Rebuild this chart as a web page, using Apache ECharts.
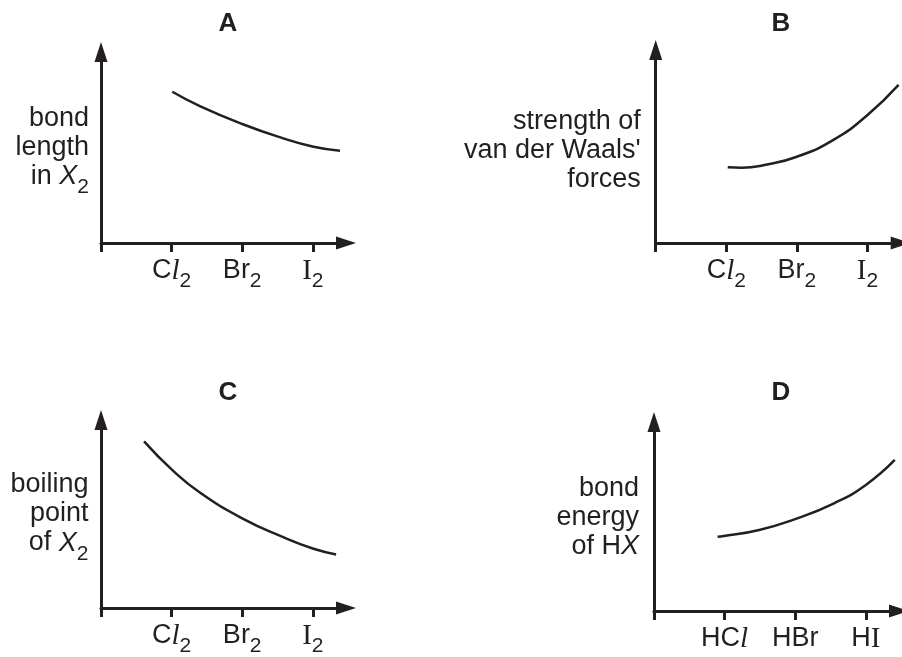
<!DOCTYPE html>
<html>
<head>
<meta charset="utf-8">
<script src="https://cdn.jsdelivr.net/npm/echarts@6/dist/echarts.min.js"></script>
<style>
html, body { margin: 0; padding: 0; background: #ffffff; }
#chart { width: 902px; height: 657px; }
</style>
</head>
<body>
<div id="chart"></div>
<script>
// ---------------- data ----------------
const panelTitles = ['A', 'B', 'C', 'D'];
const tickValues = [1, 2, 3];
const halogenLabels = ['{n|C}{il|l}{s|2}', '{n|Br}{s|2}', '{r|I}{s|2}'];
const hydrideLabels = ['{n|HC}{il|l}', '{n|HBr}', '{n|H}{r|I}'];
const yNameA = '{n|bond}\n{n|length}\n{n|in }{ix|X}{s|2}';
const yNameB = "{n|strength of}\n{n|van der Waals'}\n{n|forces}";
const yNameC = '{n|boiling}\n{n|point}\n{n|of }{ix|X}{s|2}';
const yNameD = '{n|bond}\n{n|energy}\n{n|of H}{ix|X}';

// curve A: bond length in X2 (decreasing)
const curveA_x = [1.01, 1.40, 2.00, 2.58, 3.01, 3.385];
const curveA_y = [7.92, 7.17, 6.23, 5.48, 5.04, 4.83];
// curve B: strength of van der Waals' forces (increasing)
const curveB_x = [1.02, 1.22, 1.54, 2.00, 2.53, 3.00, 3.44];
const curveB_y = [3.92, 3.90, 4.04, 4.47, 5.37, 6.63, 8.19];
// curve C: boiling point of X2 (decreasing)
const curveC_x = [0.61, 1.00, 1.40, 2.00, 2.58, 3.01, 3.33];
const curveC_y = [8.86, 7.37, 6.14, 4.77, 3.77, 3.15, 2.85];
// curve D: bond energy of HX (increasing)
const curveD_x = [0.90, 0.99, 1.49, 1.99, 2.55, 3.00, 3.41];
const curveD_y = [3.93, 3.97, 4.29, 4.85, 5.70, 6.67, 7.99];

// ---------------- layout / style ----------------
const INK = '#231f20';
const X_MAX = 3.47, Y_MAX = 10;
const gridBoxes = [
  { left: 101,   top: 52,  width: 245, height: 191 },
  { left: 655.7, top: 50,  width: 245, height: 193 },
  { left: 101,   top: 420, width: 245, height: 190 },
  { left: 654,   top: 422, width: 245, height: 189 }
];
const titlePos = [ { left: 228, top: 11 }, { left: 781, top: 11 }, { left: 228, top: 380 }, { left: 781, top: 380 } ];
const nameGaps = [12, 15, 12.5, 15];
const namePads = [[0,0,0,0], [8,0,0,0], [0,0,0,0], [2,0,0,0]];

function richSet(L, align) {
  const a = align ? { align: align } : {};
  return {
    n:  Object.assign({ fontFamily: 'Liberation Sans', fontSize: 27, color: INK, lineHeight: L }, a),
    ix: Object.assign({ fontFamily: 'Liberation Sans', fontStyle: 'italic', fontSize: 27, color: INK, lineHeight: L }, a),
    il: Object.assign({ fontFamily: 'Liberation Serif', fontStyle: 'italic', fontSize: 29, color: INK, lineHeight: L }, a),
    r:  Object.assign({ fontFamily: 'Liberation Serif', fontSize: 29, color: INK, lineHeight: L }, a),
    s:  Object.assign({ fontFamily: 'Liberation Sans', fontSize: 21, color: INK, verticalAlign: 'top', lineHeight: 4, padding: [Math.round(L / 2), 0, 0, 0] }, a)
  };
}

const axisLineStyle = { color: INK, width: 3 };
const curves = [[curveA_x, curveA_y], [curveB_x, curveB_y], [curveC_x, curveC_y], [curveD_x, curveD_y]];
const yNames = [yNameA, yNameB, yNameC, yNameD];
const xLabelSets = [halogenLabels, halogenLabels, halogenLabels, hydrideLabels];

const option = {
  animation: false,
  backgroundColor: '#ffffff',
  textStyle: { fontFamily: 'Liberation Sans' },
  title: panelTitles.map((t, i) => ({
    text: t, left: titlePos[i].left, top: titlePos[i].top, textAlign: 'center', padding: 0,
    textStyle: { fontFamily: 'Liberation Sans', fontWeight: 'bold', fontSize: 26, color: INK, lineHeight: 26 }
  })),
  grid: gridBoxes.map(g => Object.assign({ containLabel: false }, g)),
  xAxis: gridBoxes.map((g, i) => ({
    type: 'value', gridIndex: i, min: 0, max: X_MAX,
    axisLine: { show: true, onZero: false, symbol: ['none', 'triangle'], symbolSize: [13, 20], lineStyle: axisLineStyle },
    axisTick: { show: true, customValues: [0, 1, 2, 3], length: 9, lineStyle: axisLineStyle },
    axisLabel: {
      show: true, customValues: tickValues, margin: 13, color: INK,
      formatter: (v) => xLabelSets[i][Math.round(v) - 1],
      rich: richSet(30)
    },
    splitLine: { show: false }
  })),
  yAxis: gridBoxes.map((g, i) => ({
    type: 'value', gridIndex: i, min: 0, max: Y_MAX,
    name: yNames[i], nameLocation: 'middle', nameRotate: 0, nameGap: nameGaps[i],
    nameTextStyle: { align: 'right', verticalAlign: 'middle', lineHeight: 29, padding: namePads[i], rich: richSet(29, 'right') },
    axisLine: { show: true, onZero: false, symbol: ['none', 'triangle'], symbolSize: [13, 20], lineStyle: axisLineStyle },
    axisTick: { show: false },
    axisLabel: { show: false },
    splitLine: { show: false }
  })),
  series: curves.map((c, i) => ({
    type: 'line', xAxisIndex: i, yAxisIndex: i,
    data: c[0].map((x, k) => [x, c[1][k]]),
    smooth: 0.5, showSymbol: false, symbol: 'none',
    lineStyle: { color: INK, width: 2.5 },
    silent: true
  }))
};

const chart = echarts.init(document.getElementById('chart'), null, { renderer: 'canvas' });
chart.setOption(option);
</script>
</body>
</html>
